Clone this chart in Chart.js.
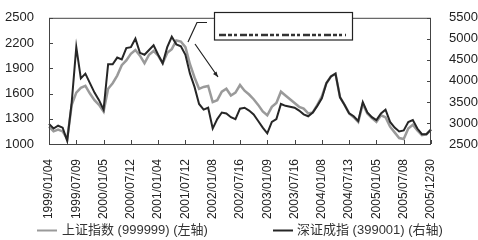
<!DOCTYPE html>
<html>
<head>
<meta charset="utf-8">
<script src="https://cdn.jsdelivr.net/npm/chart.js@4"></script>
<style>
  html, body { margin: 0; padding: 0; background: #fff; }
  #box { width: 478px; height: 240px; }
</style>
</head>
<body>
<div id="box"><canvas id="grafica"></canvas></div>
<script>
// tick labels along the x axis (one every 6 points)
const tickLabels = ['1999/01/04','1999/07/09','2000/01/05','2000/07/12','2001/01/04','2001/07/12',
  '2002/01/08','2002/07/16','2003/01/09','2003/07/16','2004/01/08','2004/07/13','2005/01/05',
  '2005/07/08','2005/12/30'];
const step = 6;

// 上证指数 (left axis)
const shIndex = [1206,1150,1172,1150,1060,1465,1611,1667,1690,1600,1521,1465,1386,1656,1723,1813,
  1937,1993,2072,2117,2050,1960,2061,2106,2050,1960,2083,2128,2230,2218,2151,1948,1791,1656,1678,
  1690,1498,1521,1622,1656,1577,1611,1701,1633,1588,1532,1465,1386,1341,1442,1487,1622,1577,1532,
  1487,1442,1420,1363,1375,1465,1566,1723,1802,1836,1555,1465,1363,1318,1262,1476,1363,1307,1262,
  1341,1318,1206,1138,1071,1060,1183,1228,1161,1105,1116,1172];

// 深证成指 (right axis)
const szIndex = [2979,2867,2934,2889,2574,3497,4802,4059,4172,3947,3722,3542,3317,4397,4397,4554,
  4509,4779,4802,5004,4667,4622,4734,4847,4622,4419,4802,5049,4869,4824,4622,4172,3857,3452,3317,
  3362,2867,3092,3249,3227,3137,3092,3339,3362,3294,3204,3047,2889,2754,3024,3092,3452,3407,3384,
  3362,3294,3204,3159,3249,3407,3587,3947,4104,4172,3609,3429,3227,3159,3047,3497,3249,3137,3069,
  3227,3317,3024,2889,2799,2822,3024,3069,2867,2732,2732,2844];

const labels = shIndex.map((v, i) => (i % step === 0 ? tickLabels[i / step] : ''));
const colors = ['#9a9a9a', '#262626'];
const names = ['上证指数 (999999) (左轴)', '深证成指 (399001) (右轴)'];

const graph = document.querySelector('#grafica');

// frame, inward ticks, callout box and legend
const extras = {
  id: 'extras',
  afterDraw(chart) {
    const ctx = chart.ctx;
    const a = chart.chartArea;
    const x = chart.scales.x, yl = chart.scales.y, yr = chart.scales.y1;
    ctx.save();
    ctx.strokeStyle = '#444';
    ctx.lineWidth = 1;
    ctx.strokeRect(a.left + 0.5, a.top + 0.5, a.right - a.left - 1, a.bottom - a.top);

    ctx.beginPath();
    yl.ticks.forEach(t => {
      const py = Math.round(yl.getPixelForValue(t.value)) + 0.5;
      ctx.moveTo(a.left, py); ctx.lineTo(a.left + 4, py);
    });
    yr.ticks.forEach(t => {
      const py = Math.round(yr.getPixelForValue(t.value)) + 0.5;
      ctx.moveTo(a.right, py); ctx.lineTo(a.right - 4, py);
    });
    labels.forEach((l, i) => {
      if (!l) return;
      const px = Math.round(x.getPixelForValue(i)) + 0.5;
      ctx.moveTo(px, a.bottom); ctx.lineTo(px, a.bottom - 4);
    });
    ctx.stroke();

    // callout box
    ctx.strokeStyle = '#222';
    ctx.lineWidth = 1.2;
    ctx.fillStyle = '#fff';
    ctx.fillRect(214, 12, 139, 28);
    ctx.strokeRect(214.5, 12.5, 138, 27.5);
    ctx.lineWidth = 2.5;
    ctx.strokeStyle = '#333';
    ctx.setLineDash([7, 2, 4, 2, 3, 3]);
    ctx.beginPath(); ctx.moveTo(219, 35); ctx.lineTo(346, 35); ctx.stroke();
    ctx.setLineDash([]);
    ctx.strokeStyle = '#222';
    ctx.lineWidth = 1.2;
    ctx.beginPath();
    ctx.moveTo(207, 22.5); ctx.lineTo(197, 22.5); ctx.lineTo(188, 42);
    ctx.moveTo(195, 44); ctx.lineTo(218, 77);
    ctx.stroke();
    ctx.beginPath();
    ctx.moveTo(218, 77); ctx.lineTo(213, 74); ctx.lineTo(216.5, 71.5); ctx.closePath();
    ctx.fillStyle = '#222'; ctx.fill();

    // legend
    ctx.font = '13px "Liberation Sans", "Noto Sans CJK SC", sans-serif';
    ctx.textBaseline = 'middle';
    const items = [[37, 62], [273, 297]];
    items.forEach((p, k) => {
      ctx.strokeStyle = colors[k];
      ctx.lineWidth = 2;
      ctx.beginPath(); ctx.moveTo(p[0], 230.5); ctx.lineTo(p[0] + 20, 230.5); ctx.stroke();
      ctx.fillStyle = '#333';
      ctx.fillText(names[k], p[1], 230);
    });
    ctx.restore();
  }
};

const data = {
  labels: labels,
  datasets: [{
    label: names[0],
    data: shIndex,
    borderColor: colors[0],
    borderWidth: 2.5,
    yAxisID: 'y',
    order: 1
  }, {
    label: names[1],
    data: szIndex,
    borderColor: colors[1],
    borderWidth: 2,
    yAxisID: 'y1',
    order: 0
  }]
};

const tickFont = { family: '"Liberation Sans", Arial, sans-serif', size: 13 };

const config = {
  type: 'line',
  data: data,
  plugins: [extras],
  options: {
    responsive: true,
    maintainAspectRatio: false,
    animation: false,
    layout: { padding: { top: 11, left: 0, right: 0, bottom: 0 } },
    elements: { point: { radius: 0 }, line: { tension: 0 } },
    plugins: { legend: { display: false }, tooltip: { enabled: false } },
    scales: {
      x: {
        grid: { display: false },
        border: { display: false },
        ticks: {
          autoSkip: false, maxRotation: 90, minRotation: 90, padding: 7,
          color: '#222', font: { family: tickFont.family, size: 12 },
          callback: (v, i) => labels[i]
        },
        afterFit: s => { s.height = 96; }
      },
      y: {
        position: 'left',
        min: 1000, max: 2500,
        grid: { display: false },
        border: { display: false },
        ticks: { stepSize: 300, padding: 7, color: '#222', font: tickFont, callback: v => String(v) },
        afterFit: s => { s.width = 49; }
      },
      y1: {
        position: 'right',
        min: 2500, max: 5500,
        grid: { display: false },
        border: { display: false },
        ticks: { stepSize: 500, padding: 10, color: '#222', font: tickFont, callback: v => String(v) },
        afterFit: s => { s.width = 47; }
      }
    }
  }
};
new Chart(graph, config);
</script>
</body>
</html>
